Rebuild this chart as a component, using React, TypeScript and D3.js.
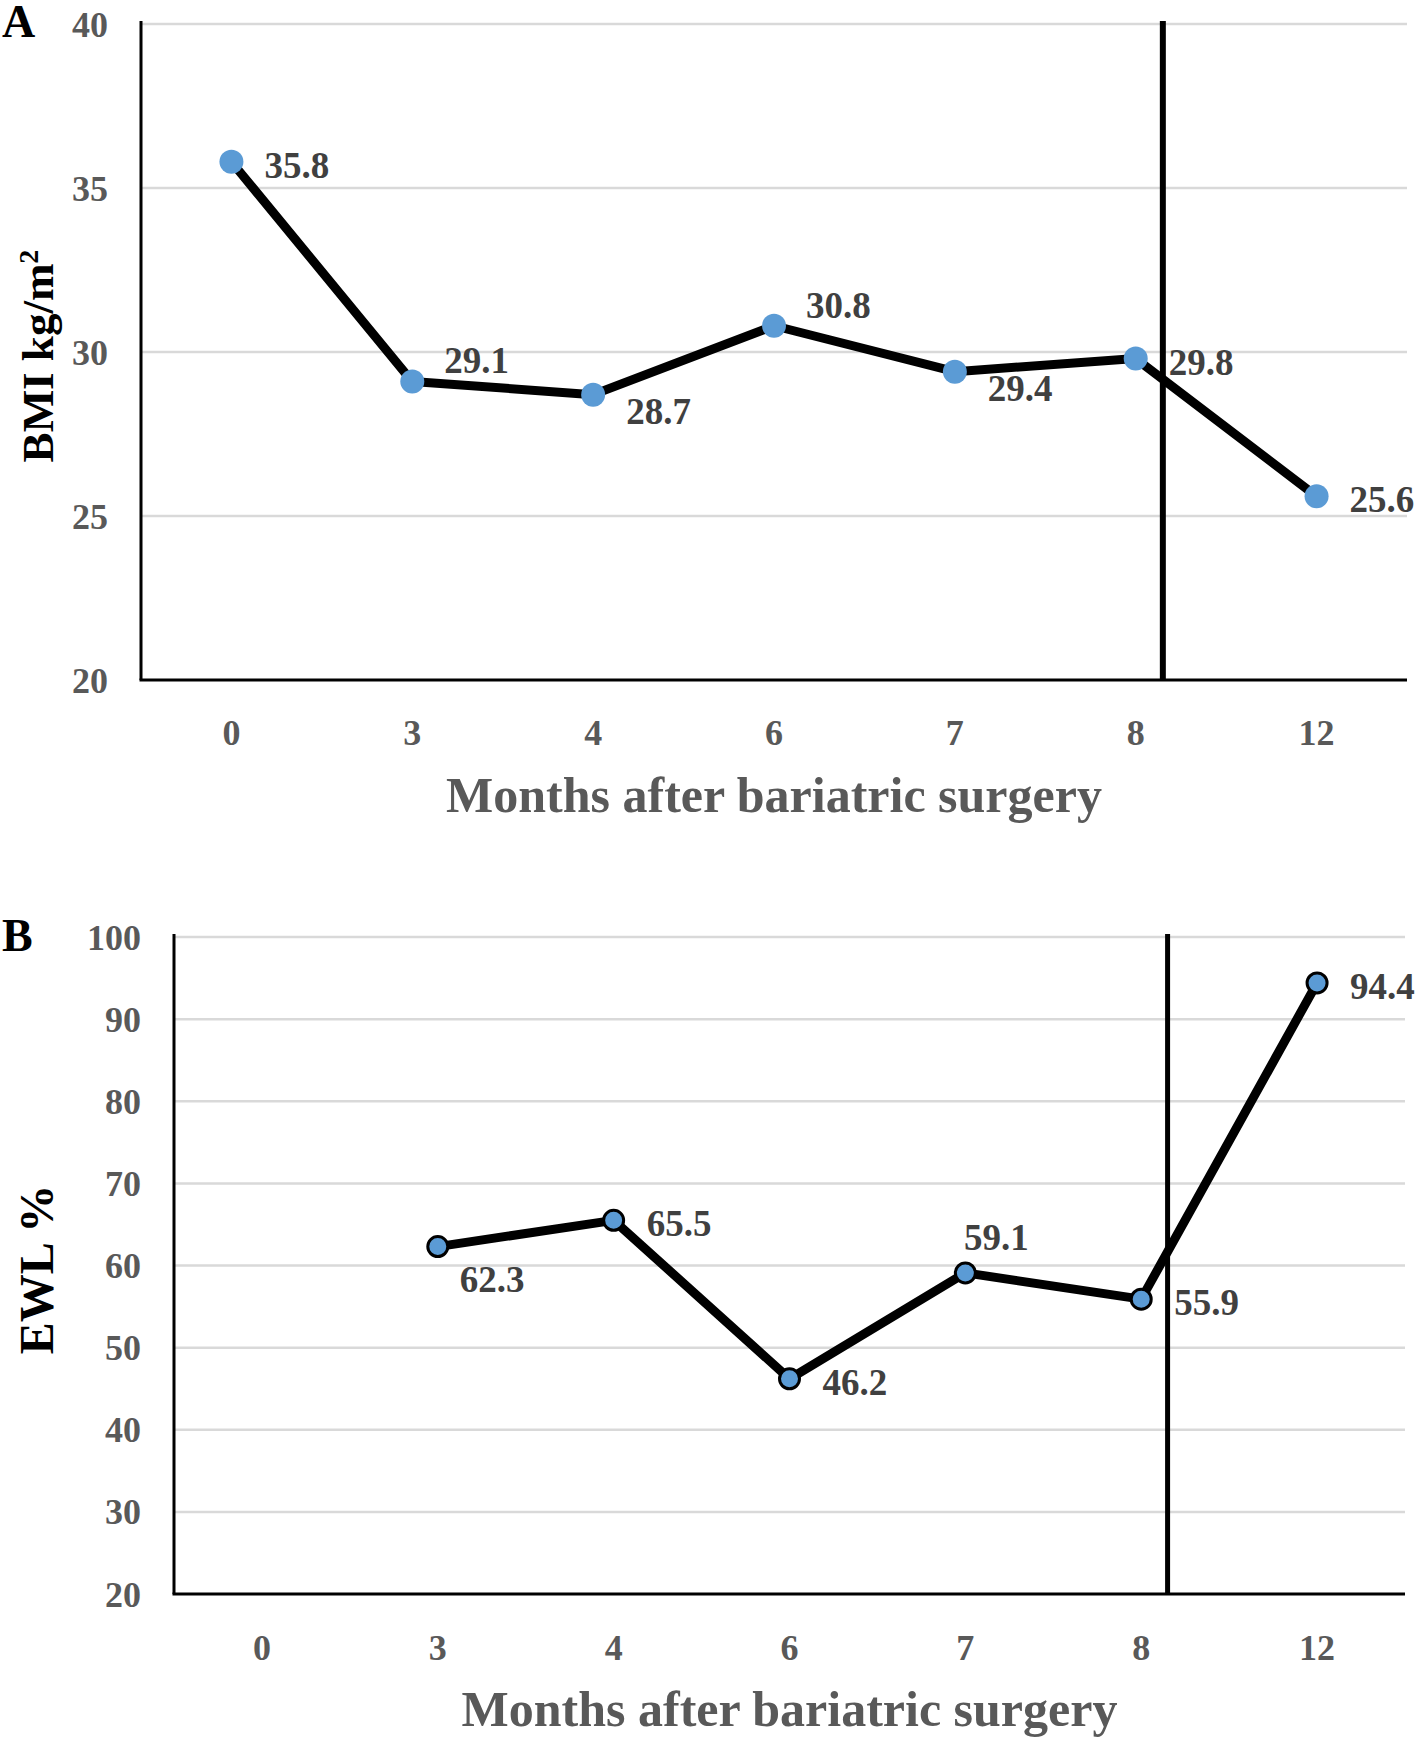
import React from "react";
import * as d3 from "d3";

const months = ["0", "3", "4", "6", "7", "8", "12"];
const bmiValues: (number | null)[] = [35.8, 29.1, 28.7, 30.8, 29.4, 29.8, 25.6];
const ewlValues: (number | null)[] = [null, 62.3, 65.5, 46.2, 59.1, 55.9, 94.4];
const bmiTicks = [20, 25, 30, 35, 40];
const ewlTicks = [20, 30, 40, 50, 60, 70, 80, 90, 100];
const bmiLabelPos = ["right", "aboveRight", "belowRight", "aboveRight", "belowRight", "right", "right"];
const ewlLabelPos = ["right", "below", "right", "right", "above", "right", "right"];
// position of the vertical divider, in category units (between 8 and 12 months)
const dividerAt = 5.15;

const FONT = "'Liberation Serif', 'Times New Roman', serif";

type PanelProps = {
  letter: string;
  letterY: number;
  left: number;
  right: number;
  top: number;
  bottom: number;
  domain: [number, number];
  ticks: number[];
  values: (number | null)[];
  labelPos: string[];
  yTitle: React.ReactNode;
  yTitleSize: number;
  xTickY: number;
  xTitleY: number;
  markerStroke: boolean;
  dividerWidth: number;
};

function Panel(p: PanelProps) {
  const band = (p.right - p.left) / months.length;
  const x = (i: number) => p.left + band * (i + 0.5);
  const y = d3.scaleLinear().domain(p.domain).range([p.bottom, p.top]);
  const pts = p.values
    .map((v, i) => (v == null ? null : { i, v }))
    .filter((d): d is { i: number; v: number } => d !== null);
  const line = d3
    .line<{ i: number; v: number }>()
    .x((d) => x(d.i))
    .y((d) => y(d.v));
  const off = (pos: string) => {
    switch (pos) {
      case "aboveRight":
        return { dx: 32, dy: -21, anchor: "start" };
      case "belowRight":
        return { dx: 33, dy: 16, anchor: "start" };
      case "below":
        return { dx: 22, dy: 32, anchor: "start" };
      case "above":
        return { dx: 31, dy: -36, anchor: "middle" };
      default:
        return { dx: 33, dy: 3, anchor: "start" };
    }
  };
  const cy = (p.top + p.bottom) / 2;
  return (
    <g>
      <text x={2} y={p.letterY} fontFamily={FONT} fontWeight="bold" fontSize={46} fill="#000">
        {p.letter}
      </text>
      {p.ticks.map((t) => (
        <g key={t}>
          {t !== p.domain[0] && (
            <line x1={p.left} x2={p.right} y1={y(t)} y2={y(t)} stroke="#d9d9d9" strokeWidth={2.5} />
          )}
          <text
            x={p.left - 33}
            y={y(t)}
            dy="0.35em"
            textAnchor="end"
            fontFamily={FONT}
            fontWeight="bold"
            fontSize={36}
            fill="#595959"
          >
            {t}
          </text>
        </g>
      ))}
      <line x1={p.left} x2={p.left} y1={p.top - 3} y2={p.bottom} stroke="#000" strokeWidth={3} />
      <line x1={p.left - 1.5} x2={p.right} y1={p.bottom} y2={p.bottom} stroke="#000" strokeWidth={3} />
      <line
        x1={x(dividerAt)}
        x2={x(dividerAt)}
        y1={p.top - 3}
        y2={p.bottom}
        stroke="#000"
        strokeWidth={p.dividerWidth}
      />
      {months.map((m, i) => (
        <text
          key={m}
          x={x(i)}
          y={p.xTickY}
          textAnchor="middle"
          fontFamily={FONT}
          fontWeight="bold"
          fontSize={36}
          fill="#595959"
        >
          {m}
        </text>
      ))}
      <text
        x={(p.left + p.right) / 2}
        y={p.xTitleY}
        textAnchor="middle"
        fontFamily={FONT}
        fontWeight="bold"
        fontSize={50}
        fill="#595959"
      >
        Months after bariatric surgery
      </text>
      <text
        transform={`translate(53,${cy + 4}) rotate(-90)`}
        textAnchor="middle"
        fontFamily={FONT}
        fontWeight="bold"
        fontSize={p.yTitleSize}
        fill="#000"
      >
        {p.yTitle}
      </text>
      <path d={line(pts) || ""} fill="none" stroke="#000" strokeWidth={9} strokeLinejoin="round" />
      {pts.map((d) => (
        <circle
          key={d.i}
          cx={x(d.i)}
          cy={y(d.v)}
          r={p.markerStroke ? 10 : 12}
          fill="#5b9bd5"
          stroke={p.markerStroke ? "#000" : "none"}
          strokeWidth={3}
        />
      ))}
      {pts.map((d) => {
        const o = off(p.labelPos[d.i]);
        return (
          <text
            key={"l" + d.i}
            x={x(d.i) + o.dx}
            y={y(d.v) + o.dy}
            dy="0.35em"
            textAnchor={o.anchor}
            fontFamily={FONT}
            fontWeight="bold"
            fontSize={37}
            fill="#404040"
          >
            {d.v.toFixed(1)}
          </text>
        );
      })}
    </g>
  );
}

export default function App() {
  return (
    <svg
      width={1418}
      height={1739}
      style={{ position: "absolute", left: 0, top: 0, background: "#fff" }}
    >
      <rect width={1418} height={1739} fill="#fff" />
      <Panel
        letter="A"
        letterY={37}
        left={141}
        right={1407}
        top={24}
        bottom={680}
        domain={[20, 40]}
        ticks={bmiTicks}
        values={bmiValues}
        labelPos={bmiLabelPos}
        yTitle={
          <>
            BMI kg/m<tspan baselineShift="super" fontSize={28}>2</tspan>
          </>
        }
        yTitleSize={45}
        xTickY={745}
        xTitleY={812}
        markerStroke={false}
        dividerWidth={6}
      />
      <Panel
        letter="B"
        letterY={951}
        left={174}
        right={1405}
        top={937}
        bottom={1594}
        domain={[20, 100]}
        ticks={ewlTicks}
        values={ewlValues}
        labelPos={ewlLabelPos}
        yTitle={<>EWL %</>}
        yTitleSize={48}
        xTickY={1660}
        xTitleY={1726}
        markerStroke={true}
        dividerWidth={5}
      />
    </svg>
  );
}
